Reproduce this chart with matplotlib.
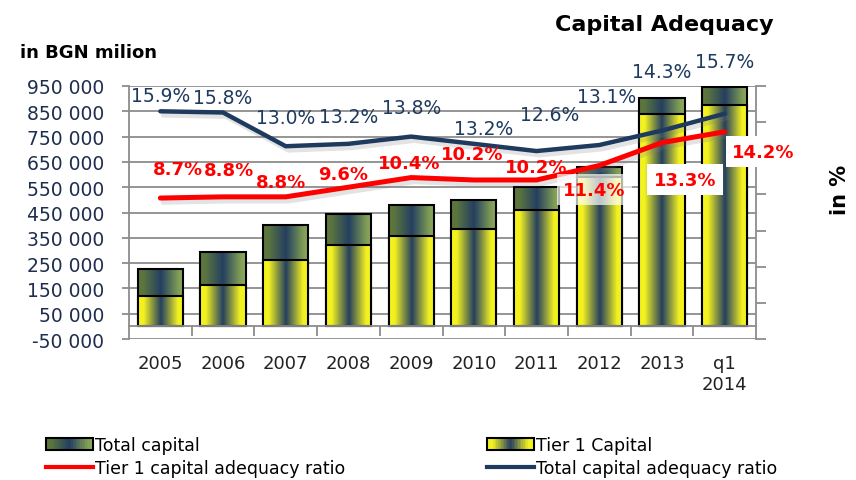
import numpy as np
import matplotlib
matplotlib.use('Agg')
import matplotlib.pyplot as plt
from matplotlib.colors import LinearSegmentedColormap
from matplotlib.patches import Rectangle
from matplotlib.lines import Line2D
from matplotlib.legend_handler import HandlerBase
from matplotlib.ticker import FuncFormatter
import matplotlib.patheffects as pe

# data
years = ['2005', '2006', '2007', '2008', '2009', '2010', '2011', '2012', '2013', 'q1\n2014']
total_capital = [228000, 294000, 400000, 445000, 480000, 499000, 552000, 631000, 904000, 946000]
tier1_capital = [120000, 162000, 264000, 320000, 357000, 386000, 458000, 590000, 838000, 873000]
total_ratio = [15.9, 15.8, 13.0, 13.2, 13.8, 13.2, 12.6, 13.1, 14.3, 15.7]
tier1_ratio = [8.7, 8.8, 8.8, 9.6, 10.4, 10.2, 10.2, 11.4, 13.3, 14.2]

# label offsets in pixels (dx, dy)
total_off = [(0, 16), (0, 15), (0, 29), (0, 27), (0, 29), (10, 15), (13, 37), (7, 49), (0, 59), (0, 52)]
tier1_off = [(18, 29), (6, 27), (-5, 15), (-5, 13), (-2, 15), (-2, 26), (0, 13), (-5, -24), (23, -37), (39, -20)]

navy = '#1f3a5f'
red = '#ff0000'
grid_c = '#8c8c8c'

yellow_cm = LinearSegmentedColormap.from_list(
    'yel', [(0, '#f6f51e'), (0.12, '#f2f120'), (0.5, '#243f60'), (0.88, '#f2f120'), (1, '#f6f51e')])
green_cm = LinearSegmentedColormap.from_list(
    'grn', [(0, '#5f783a'), (0.12, '#5a7440'), (0.5, '#243f60'), (0.88, '#7f9c55'), (1, '#90ac62')])

fig = plt.figure(figsize=(8.56, 4.81), dpi=100)
ax1 = fig.add_axes([129 / 856, 1 - 340 / 481, 627 / 856, 253 / 481])
ax2 = ax1.twinx()

x = np.arange(len(years))
grad = np.linspace(0, 1, 64).reshape(1, -1)


def gradient_bars(ax, vals, cmap, z):
    bars = ax.bar(x, vals, width=0.72, facecolor='none', edgecolor='black', linewidth=1.5, zorder=z)
    for b in bars:
        im = ax.imshow(grad, extent=[b.get_x(), b.get_x() + b.get_width(), b.get_y(), b.get_y() + b.get_height()],
                       aspect='auto', cmap=cmap, zorder=z - 0.05, interpolation='bilinear')
        im.set_clip_path(b)
    return bars


gradient_bars(ax1, total_capital, green_cm, 2)
gradient_bars(ax1, tier1_capital, yellow_cm, 2.2)

ax1.set_xlim(-0.5, len(years) - 0.5)
ax1.set_ylim(-50000, 950000)
ax1.set_yticks(np.arange(-50000, 950001, 100000))
ax1.yaxis.set_major_formatter(FuncFormatter(lambda v, p: f'{int(v):,}'.replace(',', ' ')))
ax1.set_axisbelow(True)
ax1.grid(axis='y', color=grid_c, linewidth=1.3)
ax1.set_xticks(x)
ax1.set_xticklabels(years)
ax1.set_xticks(np.arange(0.5, len(years) - 1, 1), minor=True)
ax1.spines['bottom'].set_position(('data', 0))
ax1.tick_params(axis='x', which='major', length=0, pad=20, labelsize=13, labelcolor='#222222')
ax1.tick_params(axis='x', which='minor', length=7, width=1.3, color=grid_c)
ax1.tick_params(axis='y', length=5, width=1.3, color=grid_c, labelsize=13.5, labelcolor='#1f2d4f', pad=13)
for s in ['top', 'right']:
    ax1.spines[s].set_visible(False)
for s in ['left', 'bottom']:
    ax1.spines[s].set_color(grid_c)
    ax1.spines[s].set_linewidth(1.3)

# ratio lines on the secondary axis
shadow = [pe.SimpleLineShadow(offset=(2, -3), shadow_color='#808080', alpha=0.22), pe.Normal()]
ax2.plot(x, total_ratio, color=navy, linewidth=3.2, solid_joinstyle='round', solid_capstyle='round',
         path_effects=shadow, zorder=3)
ax2.plot(x, tier1_ratio, color=red, linewidth=3.6, solid_joinstyle='round', solid_capstyle='round',
         path_effects=shadow, zorder=3)
ax2.set_ylim(-3, 18)
ax2.set_yticks(np.arange(-3, 18.1, 3))
ax2.tick_params(axis='y', length=7, width=1.3, color=grid_c, labelright=False)
for s in ['top', 'left', 'bottom']:
    ax2.spines[s].set_visible(False)
ax2.spines['right'].set_color(grid_c)
ax2.spines['right'].set_linewidth(1.3)

for i, v in enumerate(total_ratio):
    ax2.annotate(f'{v:.1f}%', (x[i], v), xytext=total_off[i], textcoords='offset pixels',
                 ha='center', va='center', color=navy, fontsize=13.5, zorder=5)

for i, v in enumerate(tier1_ratio):
    box = None
    if i == 7:
        box = dict(boxstyle='square,pad=0.35', facecolor='white', edgecolor='none', alpha=0.7)
    elif i >= 8:
        box = dict(boxstyle='square,pad=0.35', facecolor='white', edgecolor='none')
    ax2.annotate(f'{v:.1f}%', (x[i], v), xytext=tier1_off[i], textcoords='offset pixels',
                 ha='center', va='center', color=red, fontsize=13, fontweight='bold', bbox=box, zorder=5)

fig.text(664 / 856, 1 - 25 / 481, 'Capital Adequacy', ha='center', va='center', fontsize=16, fontweight='bold')
fig.text(20 / 856, 1 - 53 / 481, 'in BGN milion', ha='left', va='center', fontsize=13, fontweight='bold')
fig.text(840 / 856, 1 - 190 / 481, 'in %', ha='center', va='center', rotation=90, fontsize=15, fontweight='bold')


class GradHandler(HandlerBase):
    def __init__(self, cmap):
        super().__init__()
        self.cmap = cmap

    def create_artists(self, legend, orig_handle, xdescent, ydescent, width, height, fontsize, trans):
        n = 30
        arts = []
        for i in range(n):
            arts.append(Rectangle((-xdescent + width * i / n, -ydescent), width / n + 0.3, height,
                                  facecolor=self.cmap((i + 0.5) / n), edgecolor='none', transform=trans))
        arts.append(Rectangle((-xdescent, -ydescent), width, height, facecolor='none',
                              edgecolor='black', linewidth=1.5, transform=trans))
        return arts


tc_handle = Rectangle((0, 0), 1, 1)
t1_handle = Rectangle((0, 0), 1, 1)
red_handle = Line2D([], [], color=red, linewidth=3)
navy_handle = Line2D([], [], color=navy, linewidth=3)

leg_kw = dict(loc='upper left', frameon=False, borderpad=0, borderaxespad=0, handlelength=2.7,
              handleheight=0.7, handletextpad=0.15, labelspacing=0.3, fontsize=12.5)
fig.legend([tc_handle, red_handle], ['Total capital', 'Tier 1 capital adequacy ratio'],
           bbox_to_anchor=(46 / 856, 1 - 437 / 481), handler_map={tc_handle: GradHandler(green_cm)}, **leg_kw)
fig.legend([t1_handle, navy_handle], ['Tier 1 Capital', 'Total capital adequacy ratio'],
           bbox_to_anchor=(487 / 856, 1 - 437 / 481), handler_map={t1_handle: GradHandler(yellow_cm)}, **leg_kw)

fig.savefig('out.png', dpi=100)
